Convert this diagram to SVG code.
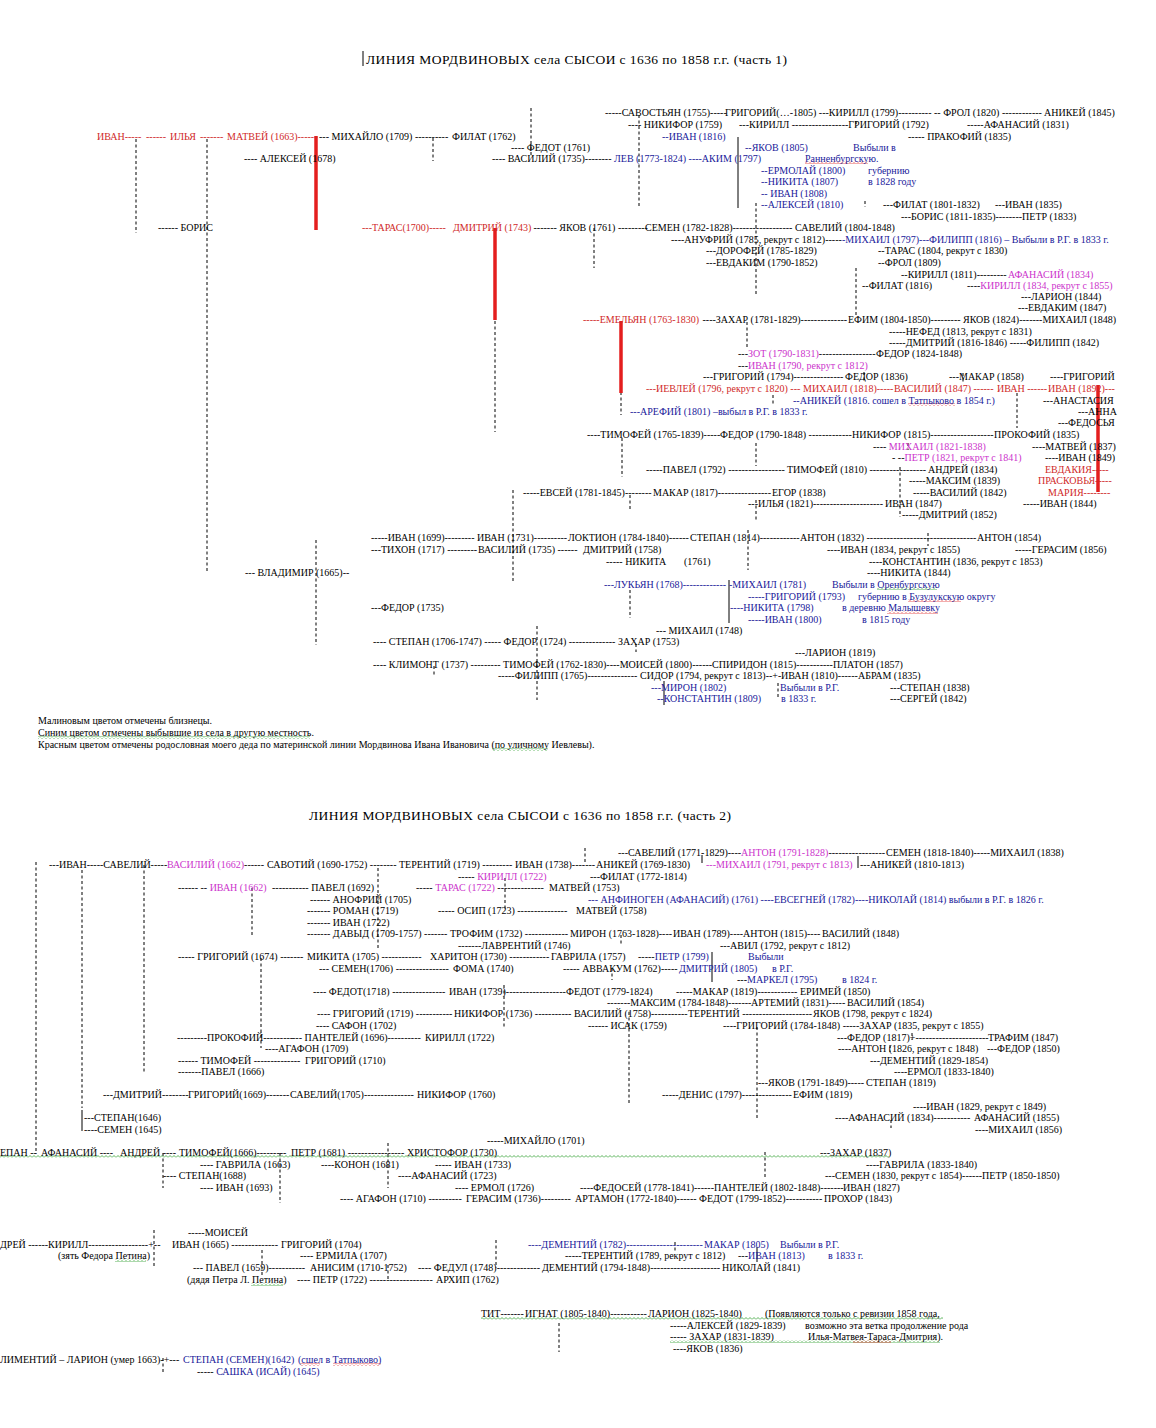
<svg xmlns="http://www.w3.org/2000/svg" width="1156" height="1428" viewBox="0 0 1156 1428">
<style>
text{font-family:"Liberation Serif","Times New Roman",serif;font-size:10px;fill:#000}
.ttl{font-size:13.5px}
.lg{font-size:10px}
.r{fill:#d02828}
.m{fill:#cc33cc}
.b{fill:#20209a}
.d{stroke:#000;stroke-width:1;stroke-dasharray:3 2.5;fill:none}
.s{stroke:#000;stroke-width:1;fill:none}
.rl{stroke:#e41e1e;stroke-width:3.5;fill:none}
</style>
<defs>
<pattern id="wg" width="4" height="3" patternUnits="userSpaceOnUse"><path d="M0 2.5 L2 0.5 L4 2.5" fill="none" stroke="#2e9e2e" stroke-width="0.8"/></pattern>
<pattern id="wr" width="4" height="3" patternUnits="userSpaceOnUse"><path d="M0 2.5 L2 0.5 L4 2.5" fill="none" stroke="#e03030" stroke-width="0.8"/></pattern>
</defs>
<rect width="1156" height="1428" fill="#fff"/>

<g id="connectors">
<line class="s" x1="363" y1="51" x2="363" y2="66"/>
<line class="d" x1="136" y1="139" x2="136" y2="233"/>
<line class="d" x1="207" y1="139" x2="207" y2="573"/>
<line class="d" x1="433" y1="138" x2="433" y2="161"/>
<line class="d" x1="531" y1="108" x2="531" y2="155"/>
<line class="d" x1="639" y1="115" x2="639" y2="208"/>
<line class="s" x1="738" y1="137" x2="738" y2="208"/>
<line class="d" x1="756" y1="203" x2="756" y2="295"/>
<line class="d" x1="856" y1="121" x2="856" y2="127"/>
<line class="d" x1="865" y1="201" x2="865" y2="207"/>
<line class="d" x1="856" y1="268" x2="856" y2="315"/>
<line class="d" x1="594" y1="228" x2="594" y2="268"/>
<line class="d" x1="495" y1="321" x2="495" y2="432"/>
<line class="d" x1="621" y1="392" x2="621" y2="415"/>
<line class="d" x1="747" y1="322" x2="747" y2="347"/>
<line class="d" x1="773" y1="395" x2="773" y2="405"/>
<line class="d" x1="864" y1="372" x2="864" y2="382"/>
<line class="d" x1="963" y1="373" x2="963" y2="382"/>
<line class="d" x1="1017" y1="393" x2="1017" y2="428"/>
<line class="d" x1="756" y1="443" x2="756" y2="466"/>
<line class="d" x1="908" y1="443" x2="908" y2="450"/>
<line class="d" x1="900" y1="467" x2="900" y2="517"/>
<line class="d" x1="756" y1="500" x2="756" y2="522"/>
<line class="d" x1="622" y1="438" x2="622" y2="477"/>
<line class="d" x1="513" y1="490" x2="513" y2="583"/>
<line class="d" x1="630" y1="495" x2="630" y2="510"/>
<line class="d" x1="316" y1="540" x2="316" y2="645"/>
<line class="d" x1="630" y1="590" x2="630" y2="618"/>
<line class="d" x1="748" y1="530" x2="748" y2="570"/>
<line class="d" x1="928" y1="533" x2="928" y2="546"/>
<line class="d" x1="537" y1="626" x2="537" y2="700"/>
<line class="d" x1="434" y1="666" x2="434" y2="676"/>
<line class="d" x1="636" y1="644" x2="636" y2="652"/>
<line class="d" x1="778" y1="683" x2="778" y2="697"/>
<line class="s" x1="729" y1="580" x2="729" y2="623"/>
<line class="s" x1="664" y1="681" x2="664" y2="705"/>
<line class="rl" x1="316" y1="136" x2="316" y2="230"/>
<line class="rl" x1="495" y1="228" x2="495" y2="320"/>
<line class="rl" x1="621" y1="321" x2="621" y2="393"/>
<line class="rl" x1="1098" y1="385" x2="1098" y2="492"/>

<line class="d" x1="36" y1="862" x2="36" y2="1154"/>
<line class="d" x1="82" y1="870" x2="82" y2="1108"/>
<line class="s" x1="82" y1="1110" x2="82" y2="1131"/>
<line class="d" x1="144" y1="865" x2="144" y2="1072"/>
<line class="d" x1="252" y1="888" x2="252" y2="935"/>
<line class="d" x1="378" y1="868" x2="378" y2="950"/>
<line class="d" x1="261" y1="958" x2="261" y2="1048"/>
<line class="d" x1="585" y1="848" x2="585" y2="863"/>
<line class="s" x1="702" y1="855" x2="702" y2="863"/>
<line class="s" x1="858" y1="856" x2="858" y2="868"/>
<line class="d" x1="505" y1="878" x2="505" y2="910"/>
<line class="d" x1="621" y1="935" x2="621" y2="945"/>
<line class="s" x1="712" y1="952" x2="712" y2="982"/>
<line class="d" x1="612" y1="968" x2="612" y2="980"/>
<line class="d" x1="504" y1="985" x2="504" y2="1027"/>
<line class="d" x1="629" y1="1012" x2="629" y2="1105"/>
<line class="d" x1="757" y1="1027" x2="757" y2="1118"/>
<line class="d" x1="912" y1="1033" x2="912" y2="1040"/>
<line class="d" x1="890" y1="1045" x2="890" y2="1052"/>
<line class="d" x1="891" y1="1120" x2="891" y2="1128"/>
<line class="d" x1="765" y1="1152" x2="765" y2="1178"/>
<line class="d" x1="163" y1="1153" x2="163" y2="1188"/>
<line class="d" x1="280" y1="1153" x2="280" y2="1203"/>
<line class="d" x1="388" y1="1143" x2="388" y2="1188"/>
<line class="d" x1="154" y1="1230" x2="154" y2="1268"/>
<line class="d" x1="262" y1="1250" x2="262" y2="1277"/>
<line class="d" x1="388" y1="1265" x2="388" y2="1280"/>
<line class="d" x1="496" y1="1240" x2="496" y2="1268"/>
<line class="d" x1="559" y1="1323" x2="559" y2="1352"/>
<line class="d" x1="163" y1="1358" x2="163" y2="1372"/>
<line class="d" x1="675" y1="1242" x2="675" y2="1252"/>
<line class="s" x1="757" y1="1247" x2="757" y2="1262"/>
</g>

<g id="underlines">
<rect x="805" y="161" width="63" height="3" fill="url(#wr)"/>
<rect x="908" y="403" width="47" height="3" fill="url(#wr)"/>
<rect x="877" y="587" width="60" height="3" fill="url(#wg)"/>
<rect x="908" y="599" width="53" height="3" fill="url(#wr)"/>
<rect x="887" y="611" width="51" height="3" fill="url(#wr)"/>
<rect x="38" y="736" width="272" height="3" fill="url(#wg)"/>
<rect x="492" y="748" width="56" height="3" fill="url(#wg)"/>
<rect x="0" y="1155" width="889" height="3" fill="url(#wg)"/>
<rect x="115" y="1259" width="31" height="3" fill="url(#wg)"/>
<rect x="251" y="1283" width="32" height="3" fill="url(#wg)"/>
<rect x="481" y="1317" width="462" height="3" fill="url(#wg)"/>
<rect x="670" y="1340" width="270" height="3" fill="url(#wg)"/>
<rect x="853" y="1340" width="38" height="3" fill="url(#wr)"/>
<rect x="300" y="1363" width="20" height="3" fill="url(#wr)"/>
<rect x="333" y="1363" width="48" height="3" fill="url(#wr)"/>
</g>

<g id="title-1"><text class="ttl" x="366" y="63.5" textLength="421">ЛИНИЯ  МОРДВИНОВЫХ села СЫСОИ с 1636 по 1858 г.г. (часть 1)</text></g>

<g id="p1-row112"><text y="115.5"><tspan x="605">-----САВОСТЬЯН (1755)-----</tspan><tspan x="725">ГРИГОРИЙ(…-1805) ---КИРИЛЛ (1799)----------</tspan><tspan x="934">-- ФРОЛ (1820) ------------</tspan><tspan x="1044">АНИКЕЙ (1845)</tspan></text></g>
<g id="p1-row124"><text y="127.5"><tspan x="628">---- НИКИФОР (1759)</tspan><tspan x="739">---КИРИЛЛ -----------------ГРИГОРИЙ (1792)</tspan><tspan x="967">-----АФАНАСИЙ (1831)</tspan></text></g>
<g id="p1-row136"><text y="139.5"><tspan x="97" class="r">ИВАН-----</tspan><tspan x="146" class="r">------</tspan><tspan x="170" class="r">ИЛЬЯ</tspan><tspan x="200" class="r">-------</tspan><tspan x="227" class="r">МАТВЕЙ (1663)------</tspan><tspan x="319">--- МИХАЙЛО (1709) ----------</tspan><tspan x="452">ФИЛАТ (1762)</tspan><tspan x="662" class="b">--ИВАН (1816)</tspan><tspan x="908">----- ПРАКОФИЙ (1835)</tspan></text></g>
<g id="p1-row147"><text y="150.5"><tspan x="511">---- ФЕДОТ (1761)</tspan><tspan x="745" class="b">--ЯКОВ (1805)</tspan><tspan x="853" class="b">Выбыли в</tspan></text></g>
<g id="p1-row158"><text y="161.5"><tspan x="244">---- АЛЕКСЕЙ (1678)</tspan><tspan x="492">---- ВАСИЛИЙ (1735)--------</tspan><tspan x="614" class="b">ЛЕВ (1773-1824) ----АКИМ (1797)</tspan><tspan x="805" class="b">Ранненбургскую.</tspan></text></g>
<g id="p1-row170"><text y="173.5"><tspan x="761" class="b">--ЕРМОЛАЙ (1800)</tspan><tspan x="868" class="b">губернию</tspan></text></g>
<g id="p1-row181"><text y="185"><tspan x="761" class="b">--НИКИТА (1807)</tspan><tspan x="868" class="b">в 1828 году</tspan></text></g>
<g id="p1-row193"><text y="196.5"><tspan x="761" class="b">-- ИВАН (1808)</tspan></text></g>
<g id="p1-row204"><text y="208"><tspan x="761" class="b">--АЛЕКСЕЙ (1810)</tspan><tspan x="883">---ФИЛАТ (1801-1832)</tspan><tspan x="995">---ИВАН (1835)</tspan></text></g>
<g id="p1-row216"><text y="219.5"><tspan x="901">---БОРИС (1811-1835)--------ПЕТР (1833)</tspan></text></g>
<g id="p1-row227"><text y="231"><tspan x="158">------ БОРИС</tspan><tspan x="362" class="r">---ТАРАС(1700)-----</tspan><tspan x="453" class="r">ДМИТРИЙ (1743)</tspan><tspan x="531"> ------- ЯКОВ (1761) ---------</tspan><tspan x="645">СЕМЕН (1782-1828)------------------</tspan><tspan x="795">САВЕЛИЙ (1804-1848)</tspan></text></g>
<g id="p1-row239"><text y="242.5"><tspan x="671">----АНУФРИЙ (1785, рекрут с 1812)-----</tspan><tspan x="842" class="b">-МИХАИЛ (1797)---ФИЛИПП (1816) – Выбыли в Р.Г. в 1833 г.</tspan></text></g>
<g id="p1-row250"><text y="254"><tspan x="706">---ДОРОФЕЙ (1785-1829)</tspan><tspan x="878">--ТАРАС (1804, рекрут с 1830)</tspan></text></g>
<g id="p1-row262"><text y="265.5"><tspan x="706">---ЕВДАКИМ (1790-1852)</tspan><tspan x="878">--ФРОЛ (1809)</tspan></text></g>
<g id="p1-row274"><text y="277.5"><tspan x="901">--КИРИЛЛ (1811)---------</tspan><tspan x="1008" class="m">АФАНАСИЙ (1834)</tspan></text></g>
<g id="p1-row285"><text y="288.5"><tspan x="862">--ФИЛАТ (1816)</tspan><tspan x="967">----</tspan><tspan class="m">КИРИЛЛ (1834, рекрут с 1855)</tspan></text></g>
<g id="p1-row296"><text y="299.5"><tspan x="1021">---ЛАРИОН (1844)</tspan></text></g>
<g id="p1-row308"><text y="311"><tspan x="1018">---ЕВДАКИМ (1847)</tspan></text></g>
<g id="p1-row319"><text y="323"><tspan x="583" class="r">-----ЕМЕЛЬЯН (1763-1830)</tspan><tspan x="700"> ----ЗАХАР (1781-1829)--------------</tspan><tspan x="848">ЕФИМ (1804-1850)---------</tspan><tspan x="963">ЯКОВ (1824)-------МИХАИЛ (1848)</tspan></text></g>
<g id="p1-row331"><text y="334.5"><tspan x="889">-----НЕФЕД (1813, рекрут с 1831)</tspan></text></g>
<g id="p1-row342"><text y="346"><tspan x="889">-----ДМИТРИЙ (1816-1846) -----ФИЛИПП (1842)</tspan></text></g>
<g id="p1-row353"><text y="357"><tspan x="738">---</tspan><tspan class="m">ЗОТ (1790-1831)</tspan><tspan>-----------------</tspan><tspan x="876">ФЕДОР (1824-1848)</tspan></text></g>
<g id="p1-row365"><text y="368.5"><tspan x="738">---</tspan><tspan class="m">ИВАН (1790, рекрут с 1812)</tspan></text></g>
<g id="p1-row376"><text y="380"><tspan x="703">---ГРИГОРИЙ (1794)---------------</tspan><tspan x="845">ФЕДОР (1836)</tspan><tspan x="949">---МАКАР (1858)</tspan><tspan x="1050">----ГРИГОРИЙ</tspan></text></g>
<g id="p1-row388"><text y="392" class="r"><tspan x="646" class="r">---ИЕВЛЕЙ (1796, рекрут с 1820) ---</tspan><tspan x="803" class="r">МИХАИЛ (1818)-----</tspan><tspan x="894" class="r">ВАСИЛИЙ (1847) ------</tspan><tspan x="997" class="r">ИВАН ------</tspan><tspan x="1048" class="r">ИВАН (1892)---</tspan></text></g>
<g id="p1-row400"><text y="403.5"><tspan x="793" class="b">--АНИКЕЙ (1816. сошел в Татпыково в 1854 г.)</tspan><tspan x="1043">---АНАСТАСИЯ</tspan></text></g>
<g id="p1-row411"><text y="415"><tspan x="630" class="b">---АРЕФИЙ (1801) –выбыл в Р.Г. в 1833 г.</tspan><tspan x="1078">---АННА</tspan></text></g>
<g id="p1-row422"><text y="426"><tspan x="1058">---ФЕДОСЬЯ</tspan></text></g>
<g id="p1-row434"><text y="438"><tspan x="587">----ТИМОФЕЙ (1765-1839)-----</tspan><tspan x="720">ФЕДОР (1790-1848) -------------</tspan><tspan x="852">НИКИФОР (1815)-------------------</tspan><tspan x="994">ПРОКОФИЙ (1835)</tspan></text></g>
<g id="p1-row446"><text y="449.5"><tspan x="873">---- </tspan><tspan class="m">МИХАИЛ (1821-1838)</tspan><tspan x="1032">----МАТВЕЙ (1837)</tspan></text></g>
<g id="p1-row457"><text y="461"><tspan x="892">- --</tspan><tspan class="m">ПЕТР (1821, рекрут с 1841)</tspan><tspan x="1045">----ИВАН (1849)</tspan></text></g>
<g id="p1-row469"><text y="472.5"><tspan x="646">-----ПАВЕЛ (1792) -----------------</tspan><tspan x="787">ТИМОФЕЙ (1810) -----------------</tspan><tspan x="928">АНДРЕЙ (1834)</tspan><tspan x="1045" class="r">ЕВДАКИЯ-----</tspan></text></g>
<g id="p1-row480"><text y="484"><tspan x="909">-----МАКСИМ (1839)</tspan><tspan x="1038" class="r">ПРАСКОВЬЯ-----</tspan></text></g>
<g id="p1-row492"><text y="495.5"><tspan x="523">-----ЕВСЕЙ (1781-1845)--------</tspan><tspan x="653">МАКАР (1817)----------------</tspan><tspan x="772">ЕГОР (1838)</tspan><tspan x="913">-----ВАСИЛИЙ (1842)</tspan><tspan x="1048" class="r">МАРИЯ--------</tspan></text></g>
<g id="p1-row503"><text y="507"><tspan x="748">---ИЛЬЯ (1821)---------------------</tspan><tspan x="885">ИВАН (1847)</tspan><tspan x="1023">-----ИВАН (1844)</tspan></text></g>
<g id="p1-row514"><text y="518"><tspan x="902">-----ДМИТРИЙ (1852)</tspan></text></g>

<g id="p1-row537"><text y="541"><tspan x="371">-----ИВАН (1699)---------</tspan><tspan x="477">ИВАН (1731)----------</tspan><tspan x="568">ЛОКТИОН (1784-1840)------</tspan><tspan x="690">СТЕПАН (1814)------------</tspan><tspan x="800">АНТОН (1832) ---------------------------------</tspan><tspan x="977">АНТОН (1854)</tspan></text></g>
<g id="p1-row549"><text y="552.5"><tspan x="371">---ТИХОН (1717) ---------</tspan><tspan x="478">ВАСИЛИЙ (1735) ------</tspan><tspan x="583">ДМИТРИЙ (1758)</tspan><tspan x="827">----ИВАН (1834, рекрут с 1855)</tspan><tspan x="1015">-----ГЕРАСИМ (1856)</tspan></text></g>
<g id="p1-row561"><text y="564.5"><tspan x="606">----- НИКИТА</tspan><tspan x="684">(1761)</tspan><tspan x="869">----КОНСТАНТИН (1836, рекрут с 1853)</tspan></text></g>
<g id="p1-row573"><text y="576"><tspan x="245">--- ВЛАДИМИР (1665)--</tspan><tspan x="867">----НИКИТА (1844)</tspan></text></g>
<g id="p1-row584"><text y="587.5"><tspan x="604" class="b">---ЛУКЬЯН (1768)-------------</tspan><tspan x="729" class="b">-МИХАИЛ (1781)</tspan><tspan x="832" class="b">Выбыли в Оренбургскую</tspan></text></g>
<g id="p1-row596"><text y="599.5"><tspan x="748" class="b">-----ГРИГОРИЙ (1793)</tspan><tspan x="858" class="b">губернию в Бузулукскую округу</tspan></text></g>
<g id="p1-row607"><text y="611"><tspan x="371">---ФЕДОР (1735)</tspan><tspan x="730" class="b">----НИКИТА (1798)</tspan><tspan x="842" class="b">в деревню Малышевку</tspan></text></g>
<g id="p1-row619"><text y="622.5"><tspan x="748" class="b">-----ИВАН (1800)</tspan><tspan x="862" class="b">в 1815 году</tspan></text></g>
<g id="p1-row630"><text y="633.5"><tspan x="656">--- МИХАИЛ  (1748)</tspan></text></g>
<g id="p1-row641"><text y="645"><tspan x="373">---- СТЕПАН (1706-1747) ----- ФЕДОР (1724) --------------</tspan><tspan x="618">ЗАХАР (1753)</tspan></text></g>
<g id="p1-row652"><text y="656"><tspan x="795">---ЛАРИОН (1819)</tspan></text></g>
<g id="p1-row664"><text y="667.5"><tspan x="373">---- КЛИМОНТ (1737) --------- ТИМОФЕЙ (1762-1830)----МОИСЕЙ (1800)------</tspan><tspan x="712">СПИРИДОН (1815)-----------</tspan><tspan x="833">ПЛАТОН (1857)</tspan></text></g>
<g id="p1-row675"><text y="679"><tspan x="498">-----ФИЛИПП (1765)---------------</tspan><tspan x="640">СИДОР (1794, рекрут с 1813)--+-</tspan><tspan x="781">ИВАН (1810)------</tspan><tspan x="858">АБРАМ (1835)</tspan></text></g>
<g id="p1-row687"><text y="690.5"><tspan x="651" class="b">---МИРОН (1802)</tspan><tspan x="780" class="b">Выбыли в Р.Г.</tspan><tspan x="890">---СТЕПАН (1838)</tspan></text></g>
<g id="p1-row698"><text y="702"><tspan x="657" class="b">--КОНСТАНТИН (1809)</tspan><tspan x="781" class="b">в 1833 г.</tspan><tspan x="890">---СЕРГЕЙ (1842)</tspan></text></g>

<g id="legend">
<text class="lg" x="38" y="723.5">Малиновым цветом  отмечены  близнецы.</text>
<text class="lg" x="38" y="735.5">Синим цветом отмечены выбывшие из села в другую местность.</text>
<text class="lg" x="38" y="747.5">Красным цветом отмечены родословная моего деда по материнской  линии Мордвинова Ивана Ивановича (по уличному Иевлевы).</text>
</g>

<g id="title-2"><text class="ttl" x="309" y="819.5" textLength="422">ЛИНИЯ  МОРДВИНОВЫХ села СЫСОИ с 1636 по 1858 г.г. (часть 2)</text></g>

<g id="p2-row852"><text y="855.5"><tspan x="618">---САВЕЛИЙ (1771-1829)----</tspan><tspan class="m">АНТОН (1791-1828)</tspan><tspan>-----------------</tspan><tspan x="886">СЕМЕН (1818-1840)-----МИХАИЛ (1838)</tspan></text></g>
<g id="p2-row864"><text y="867.5"><tspan x="49">---ИВАН-----САВЕЛИЙ-----</tspan><tspan x="167" class="m">ВАСИЛИЙ (1662)</tspan><tspan>------</tspan><tspan x="267">САВОТИЙ (1690-1752) --------</tspan><tspan x="399">ТЕРЕНТИЙ (1719) ---------</tspan><tspan x="515">ИВАН (1738)-------</tspan><tspan x="596">АНИКЕЙ  (1769-1830)</tspan><tspan x="706" class="m">---МИХАИЛ (1791, рекрут с 1813)</tspan><tspan x="860">---АНИКЕЙ (1810-1813)</tspan></text></g>
<g id="p2-row876"><text y="879.5"><tspan x="458">----- </tspan><tspan class="m">КИРИЛЛ (1722)</tspan><tspan x="590">---ФИЛАТ (1772-1814)</tspan></text></g>
<g id="p2-row887"><text y="891"><tspan x="178">------ -- </tspan><tspan class="m">ИВАН (1662)</tspan><tspan x="272">----------- ПАВЕЛ (1692)</tspan><tspan x="416">----- </tspan><tspan class="m">ТАРАС (1722)</tspan><tspan> -------------- </tspan><tspan x="549">МАТВЕЙ (1753)</tspan></text></g>
<g id="p2-row899"><text y="902.5"><tspan x="310">------ АНОФРИЙ (1705)</tspan><tspan x="588" class="b">--- АНФИНОГЕН (АФАНАСИЙ) (1761) ----ЕВСЕГНЕЙ (1782)----НИКОЛАЙ (1814) выбыли в Р.Г. в 1826 г.</tspan></text></g>
<g id="p2-row910"><text y="914"><tspan x="307">------- РОМАН (1719)</tspan><tspan x="438">----- ОСИП (1723) ---------------</tspan><tspan x="576">МАТВЕЙ (1758)</tspan></text></g>
<g id="p2-row922"><text y="925.5"><tspan x="307">------- ИВАН (1722)</tspan></text></g>
<g id="p2-row933"><text y="937"><tspan x="307">------- ДАВЫД (1709-1757) -------</tspan><tspan x="450">ТРОФИМ (1732) -------------</tspan><tspan x="570">МИРОН (1763-1828)----</tspan><tspan x="673">ИВАН (1789)----</tspan><tspan x="743">АНТОН (1815)----</tspan><tspan x="822">ВАСИЛИЙ (1848)</tspan></text></g>
<g id="p2-row945"><text y="948.5"><tspan x="458">-------ЛАВРЕНТИЙ (1746)</tspan><tspan x="720">---АВИЛ (1792, рекрут с 1812)</tspan></text></g>
<g id="p2-row956"><text y="960"><tspan x="178">----- ГРИГОРИЙ (1674) -------</tspan><tspan x="307">МИКИТА (1705) ------------</tspan><tspan x="430">ХАРИТОН (1730) ------------</tspan><tspan x="551">ГАВРИЛА (1757)</tspan><tspan x="638">-----</tspan><tspan class="b">ПЕТР (1799)</tspan><tspan x="748" class="b">Выбыли</tspan></text></g>
<g id="p2-row968"><text y="971.5"><tspan x="319">--- СЕМЕН(1706) ----------------</tspan><tspan x="453">ФОМА (1740)</tspan><tspan x="563">----- АВВАКУМ (1762)-----</tspan><tspan x="679" class="b">ДМИТРИЙ (1805)</tspan><tspan x="772" class="b">в Р.Г.</tspan></text></g>
<g id="p2-row979"><text y="983"><tspan x="737">---</tspan><tspan class="b">МАРКЕЛ (1795)</tspan><tspan x="842" class="b">в 1824 г.</tspan></text></g>
<g id="p2-row991"><text y="994.5"><tspan x="313">---- ФЕДОТ(1718) ----------------</tspan><tspan x="449">ИВАН (1739)------------------</tspan><tspan x="566">ФЕДОТ (1779-1824)</tspan><tspan x="676">-----МАКАР (1819)------------</tspan><tspan x="800">ЕРИМЕЙ (1850)</tspan></text></g>
<g id="p2-row1002"><text y="1005.5"><tspan x="607">-------МАКСИМ (1784-1848)-------</tspan><tspan x="751">АРТЕМИЙ (1831)-----</tspan><tspan x="847">ВАСИЛИЙ (1854)</tspan></text></g>
<g id="p2-row1013"><text y="1017"><tspan x="317">---- ГРИГОРИЙ (1719) -----------</tspan><tspan x="454">НИКИФОР (1736) -----------</tspan><tspan x="574">ВАСИЛИЙ (1758)-----------</tspan><tspan x="688">ТЕРЕНТИЙ ---------------------</tspan><tspan x="813">ЯКОВ (1798, рекрут с 1824)</tspan></text></g>
<g id="p2-row1025"><text y="1029"><tspan x="316">---- САФОН (1702)</tspan><tspan x="588">------ ИСАК (1759)</tspan><tspan x="723">----ГРИГОРИЙ (1784-1848) -----ЗАХАР (1835, рекрут с 1855)</tspan></text></g>
<g id="p2-row1037"><text y="1040.5"><tspan x="177">---------ПРОКОФИЙ---------</tspan><tspan x="292">--- ПАНТЕЛЕЙ (1696)----------</tspan><tspan x="425">КИРИЛЛ (1722)</tspan><tspan x="837">---ФЕДОР (1817)+----------------------</tspan><tspan x="988">ТРАФИМ (1847)</tspan></text></g>
<g id="p2-row1048"><text y="1052"><tspan x="265">----АГАФОН (1709)</tspan><tspan x="838">----АНТОН (1826, рекрут с 1848)</tspan><tspan x="987">---ФЕДОР (1850)</tspan></text></g>
<g id="p2-row1060"><text y="1063.5"><tspan x="178">------ ТИМОФЕЙ --------------</tspan><tspan x="305">ГРИГОРИЙ (1710)</tspan><tspan x="870">---ДЕМЕНТИЙ (1829-1854)</tspan></text></g>
<g id="p2-row1071"><text y="1075"><tspan x="178">-------ПАВЕЛ (1666)</tspan><tspan x="894">----ЕРМОЛ (1833-1840)</tspan></text></g>
<g id="p2-row1082"><text y="1086"><tspan x="758">---ЯКОВ (1791-1849)-----</tspan><tspan x="866">СТЕПАН (1819)</tspan></text></g>
<g id="p2-row1094"><text y="1098"><tspan x="103">---ДМИТРИЙ--------</tspan><tspan x="188">ГРИГОРИЙ(1669)-------</tspan><tspan x="290">САВЕЛИЙ(1705)---------------</tspan><tspan x="417">НИКИФОР (1760)</tspan><tspan x="662">-----ДЕНИС (1797)---------------</tspan><tspan x="793">ЕФИМ (1819)</tspan></text></g>
<g id="p2-row1106"><text y="1109.5"><tspan x="913">----ИВАН (1829, рекрут с 1849)</tspan></text></g>
<g id="p2-row1117"><text y="1121"><tspan x="84">---СТЕПАН(1646)</tspan><tspan x="835">----АФАНАСИЙ (1834)-----------</tspan><tspan x="974">АФАНАСИЙ (1855)</tspan></text></g>
<g id="p2-row1129"><text y="1132.5"><tspan x="84">----СЕМЕН (1645)</tspan><tspan x="975">----МИХАИЛ (1856)</tspan></text></g>
<g id="p2-row1140"><text y="1144"><tspan x="487">-----МИХАЙЛО (1701)</tspan></text></g>
<g id="p2-row1152"><text y="1155.5"><tspan x="0">ЕПАН --</tspan><tspan x="41">АФАНАСИЙ ----</tspan><tspan x="120">АНДРЕЙ ----</tspan><tspan x="179">ТИМОФЕЙ(1666)---------</tspan><tspan x="291">ПЕТР (1681) -----------------</tspan><tspan x="407">ХРИСТОФОР (1730)</tspan><tspan x="820">---ЗАХАР (1837)</tspan></text></g>
<g id="p2-row1164"><text y="1167.5"><tspan x="200">---- ГАВРИЛА (1663)</tspan><tspan x="321">----КОНОН (1681)</tspan><tspan x="435">----- ИВАН (1733)</tspan><tspan x="866">----ГАВРИЛА (1833-1840)</tspan></text></g>
<g id="p2-row1175"><text y="1179"><tspan x="163">---- СТЕПАН(1688)</tspan><tspan x="398">----АФАНАСИЙ (1723)</tspan><tspan x="825">---СЕМЕН (1830, рекрут с 1854)------ПЕТР (1850-1850)</tspan></text></g>
<g id="p2-row1187"><text y="1190.5"><tspan x="200">---- ИВАН  (1693)</tspan><tspan x="455">---- ЕРМОЛ (1726)</tspan><tspan x="580">----ФЕДОСЕЙ (1778-1841)------</tspan><tspan x="714">ПАНТЕЛЕЙ (1802-1848)-------</tspan><tspan x="843">ИВАН (1827)</tspan></text></g>
<g id="p2-row1198"><text y="1202"><tspan x="340">---- АГАФОН (1710) ----------</tspan><tspan x="466">ГЕРАСИМ (1736)---------</tspan><tspan x="575">АРТАМОН (1772-1840)------</tspan><tspan x="699">ФЕДОТ (1799-1852)-----------</tspan><tspan x="824">ПРОХОР (1843)</tspan></text></g>
<g id="p2-row1232"><text y="1235.5"><tspan x="188">-----МОИСЕЙ</tspan></text></g>
<g id="p2-row1244"><text y="1247.5"><tspan x="0">ДРЕЙ ------</tspan><tspan x="48">КИРИЛЛ------------------+--</tspan><tspan x="172">ИВАН (1665) --------------</tspan><tspan x="281">ГРИГОРИЙ (1704)</tspan><tspan x="528" class="b">----ДЕМЕНТИЙ (1782)-----------------------</tspan><tspan x="704" class="b">МАКАР (1805)</tspan><tspan x="780" class="b">Выбыли в Р.Г.</tspan></text></g>
<g id="p2-row1255"><text y="1259"><tspan x="58">(зять Федора Петина)</tspan><tspan x="300">---- ЕРМИЛА (1707)</tspan><tspan x="565">-----ТЕРЕНТИЙ (1789, рекрут с 1812)</tspan><tspan x="738">---</tspan><tspan class="b">ИВАН (1813)</tspan><tspan x="828" class="b">в 1833 г.</tspan></text></g>
<g id="p2-row1267"><text y="1270.5"><tspan x="193">--- ПАВЕЛ (1659)-----------</tspan><tspan x="310">АНИСИМ (1710-1752)</tspan><tspan x="418">---- ФЕДУЛ (1748)-------------</tspan><tspan x="542">ДЕМЕНТИЙ (1794-1848)---------------------</tspan><tspan x="722">НИКОЛАЙ (1841)</tspan></text></g>
<g id="p2-row1279"><text y="1282.5"><tspan x="187">(дядя Петра Л. Петина)</tspan><tspan x="297">---- ПЕТР (1722) -------------------</tspan><tspan x="436">АРХИП (1762)</tspan></text></g>
<g id="p2-row1313"><text y="1316.5"><tspan x="481">ТИТ-------</tspan><tspan x="525">ИГНАТ (1805-1840)-----------</tspan><tspan x="648">ЛАРИОН (1825-1840)</tspan><tspan x="765">(Появляются только с ревизии 1858 года,</tspan></text></g>
<g id="p2-row1325"><text y="1328.5"><tspan x="670">-----АЛЕКСЕЙ (1829-1839)</tspan><tspan x="805">возможно эта ветка продолжение рода</tspan></text></g>
<g id="p2-row1336"><text y="1340"><tspan x="670">----- ЗАХАР (1831-1839)</tspan><tspan x="808">Илья-Матвея-Тараса-Дмитрия).</tspan></text></g>
<g id="p2-row1348"><text y="1351.5"><tspan x="673">----ЯКОВ (1836)</tspan></text></g>
<g id="p2-row1359"><text y="1363"><tspan x="0">ЛИМЕНТИЙ – ЛАРИОН (умер 1663)-+---</tspan><tspan x="183" class="b">СТЕПАН (СЕМЕН)(1642)</tspan><tspan x="298" class="b">(сшел в Татпыково)</tspan></text></g>
<g id="p2-row1371"><text y="1374.5"><tspan x="197">----- </tspan><tspan class="b">САШКА (ИСАЙ) (1645)</tspan></text></g>
</svg>
